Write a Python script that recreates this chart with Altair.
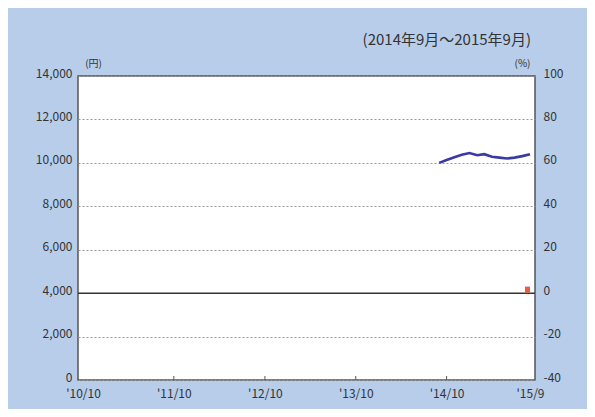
import altair as alt
import pandas as pd

# ---- data ----
line_months = ["2014-09-01", "2014-10-01", "2014-11-01", "2014-12-01", "2015-01-01",
               "2015-02-01", "2015-03-01", "2015-04-01", "2015-05-01", "2015-06-01",
               "2015-07-01", "2015-08-01", "2015-09-01"]
price_values = [10000, 10130, 10260, 10370, 10450, 10350, 10400, 10285, 10240,
                10200, 10240, 10310, 10400]
change_months = ["2015-09-01"]
change_values = [3]
x_tick_dates = ["2010-10-01", "2011-10-01", "2012-10-01", "2013-10-01",
                "2014-10-01", "2015-09-01"]
inner_tick_dates = ["2011-10-01", "2012-10-01", "2013-10-01", "2014-10-01"]
left_ticks = [0, 2000, 4000, 6000, 8000, 10000, 12000, 14000]
right_ticks = [-40, -20, 0, 20, 40, 60, 80, 100]
period_title = "(2014年9月～2015年9月)"
left_unit = "(円)"
right_unit = "(%)"

FONT = "Noto Sans CJK JP"
TXT = "#333333"
W, H = 457, 304

line_df = pd.DataFrame({"month": line_months, "price": price_values})
bar_df = pd.DataFrame({"month": change_months, "change": change_values})
ticks_df = pd.DataFrame({"month": inner_tick_dates})

x_scale = alt.Scale(type="utc", domain=[x_tick_dates[0], x_tick_dates[-1]])
x_axis = alt.Axis(
    values=x_tick_dates, labelExpr="\"'\" + utcFormat(datum.value, '%y/%-m')",
    title=None, grid=False, ticks=False, domain=False, labelFontSize=12,
    labelColor=TXT, labelPadding=8, labelFont=FONT, labelFlush=False,
)
left_scale = alt.Scale(domain=[0, 14000], nice=False, zero=False)
left_axis = alt.Axis(
    values=left_ticks, format=",d", title=left_unit, titleAngle=0,
    titleX=15, titleY=-13, titleAlign="center", titleBaseline="middle",
    titleFontSize=10, titleFontWeight="normal", titleColor=TXT, titleFont=FONT,
    grid=True, gridDash=[2, 2], gridColor="#999999", gridWidth=1,
    ticks=False, domain=False, labelFontSize=12, labelColor=TXT,
    labelPadding=6, labelFont=FONT, labelOffset=-3,
)

line = alt.Chart(line_df).mark_line(color="#3A3AA6", strokeWidth=2.6).encode(
    x=alt.X("month:T", scale=x_scale, axis=x_axis),
    y=alt.Y("price:Q", scale=left_scale, axis=left_axis),
)

zero_rule = alt.Chart(pd.DataFrame({"v": [4000]})).mark_rule(
    color="#333333", strokeWidth=1.5
).encode(y=alt.Y("v:Q", scale=left_scale, axis=left_axis))

inner_ticks = alt.Chart(ticks_df).mark_rule(color="#555555", strokeWidth=1).encode(
    x=alt.X("month:T", scale=x_scale, axis=x_axis),
    y=alt.value(H), y2=alt.value(H - 4),
)

title_text = alt.Chart(pd.DataFrame({"t": [period_title]})).mark_text(
    align="right", baseline="middle", fontSize=15, font=FONT, color=TXT
).encode(x=alt.value(W - 4), y=alt.value(-36), text="t:N")

left_layer = alt.layer(line, zero_rule, inner_ticks, title_text)

bar = alt.Chart(bar_df).mark_bar(size=5, xOffset=-2.5, color="#E2603F").encode(
    x=alt.X("month:T", scale=x_scale, axis=x_axis),
    y=alt.Y("change:Q", scale=alt.Scale(domain=[-40, 100], nice=False), axis=alt.Axis(
        orient="right", values=right_ticks, title=right_unit, titleAngle=0,
        titleX=-13, titleY=-13, titleAlign="center", titleBaseline="middle",
        titleFontSize=10, titleFontWeight="normal", titleColor=TXT, titleFont=FONT,
        grid=False, ticks=False, domain=False, labelFontSize=12, labelColor=TXT,
        labelPadding=8, labelFont=FONT, labelOffset=-3,
        labelExpr="replace(format(datum.value, 'd'), '\u2212', '-')",
    )),
)

chart = alt.layer(left_layer, bar).resolve_scale(y="independent").properties(
    width=W, height=H,
    autosize=alt.AutoSizeParams(type="none"),
    padding={"left": 70, "top": 68, "right": 52, "bottom": 29},
    background="#B7CDEA",
).configure_view(stroke="#555555", strokeWidth=1.5, fill="white")

chart.save("out.html", embed_options={"renderer": "svg", "actions": False})
